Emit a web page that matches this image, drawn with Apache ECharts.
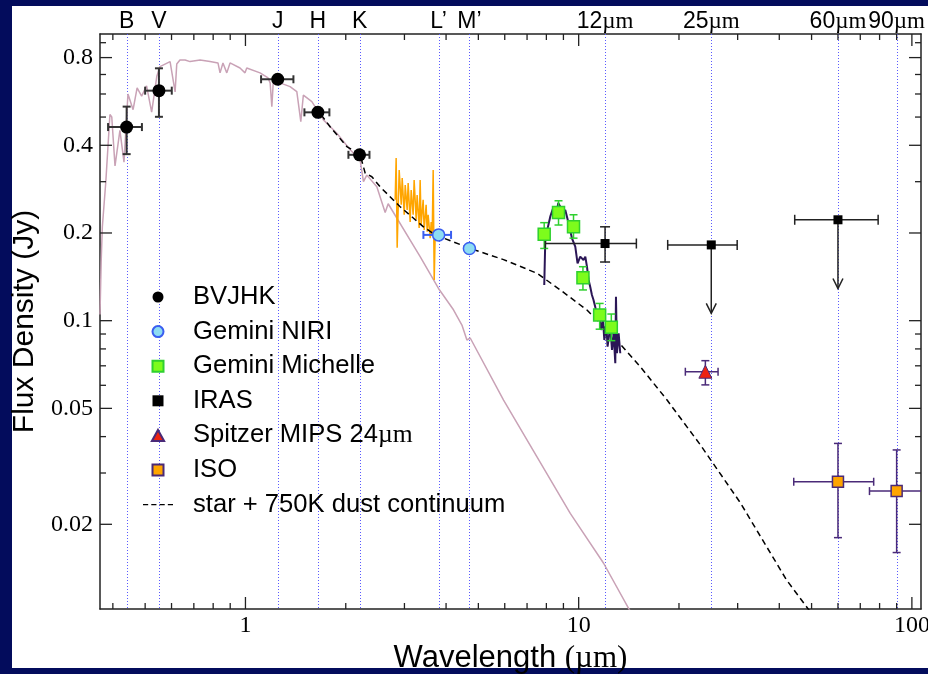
<!DOCTYPE html>
<html><head><meta charset="utf-8">
<script src="https://cdn.jsdelivr.net/npm/echarts@6/dist/echarts.min.js"></script>
<style>
html,body{margin:0;padding:0;background:#030c5c;}
#wrap{position:relative;width:928px;height:674px;background:#030c5c;overflow:hidden;}
#panel{position:absolute;left:12px;top:6px;width:916px;height:662px;background:#fff;}
#chart{position:absolute;left:0;top:0;width:928px;height:674px;}
</style></head><body>
<div id="wrap"><div id="panel"></div><div id="chart"></div></div>
<script>
// ---------- axis ticks / labels ----------
const bandNames = ['B', 'V', 'J', 'H', 'K', 'L\u2019', 'M\u2019', '12µm', '25µm', '60µm', '90µm'];
const bandWaves = [0.44, 0.55, 1.25, 1.65, 2.2, 3.8, 4.7, 12, 25, 60, 90];
const xMajorTicks = [1, 10, 100];
const xMinorTicks = [0.4, 0.5, 0.6, 0.7, 0.8, 0.9, 2, 3, 4, 5, 6, 7, 8, 9, 20, 30, 40, 50, 60, 70, 80, 90];
const yMajorTicks = [0.02, 0.05, 0.1, 0.2, 0.4, 0.8];
const yMinorTicks = [0.03, 0.04, 0.06, 0.07, 0.08, 0.09, 0.3, 0.5, 0.6, 0.7, 0.9];

// ---------- photometry ----------
const bvjhkWave   = [0.44, 0.55, 1.25, 1.65, 2.2];
const bvjhkFlux   = [0.462, 0.616, 0.674, 0.519, 0.371];
const bvjhkWaveLo = [0.387, 0.500, 1.114, 1.503, 2.037];
const bvjhkWaveHi = [0.489, 0.601, 1.393, 1.786, 2.356];
const bvjhkFluxLo = [0.373, 0.501, 0.674, 0.519, 0.371];
const bvjhkFluxHi = [0.543, 0.735, 0.674, 0.519, 0.371];

const niriWave   = [3.8, 4.7];
const niriFlux   = [0.197, 0.177];
const niriWaveLo = [3.42, 4.7];
const niriWaveHi = [4.14, 4.7];

const michWave   = [7.88, 8.70, 9.65, 10.30, 11.56, 12.53];
const michFlux   = [0.198, 0.235, 0.210, 0.1405, 0.1046, 0.0950];
const michFluxLo = [0.177, 0.213, 0.192, 0.1275, 0.0935, 0.0854];
const michFluxHi = [0.217, 0.258, 0.231, 0.1532, 0.1146, 0.1054];

const irasWave   = [12, 25, 60];
const irasFlux   = [0.184, 0.182, 0.222];
const irasWaveLo = [7.94, 18.5, 44.5];
const irasWaveHi = [14.9, 29.9, 79.2];
const irasFluxLo = [0.159, 0.182, 0.222];
const irasFluxHi = [0.210, 0.182, 0.222];
const irasLimitWave = [25, 60];
const irasLimitFrom = [0.182, 0.222];
const irasLimitTo   = [0.106, 0.129];

const mipsWave = [24], mipsFlux = [0.0668];
const mipsWaveLo = [20.9], mipsWaveHi = [26.2];
const mipsFluxLo = [0.0602], mipsFluxHi = [0.0729];

const isoWave   = [60, 90];
const isoFlux   = [0.028, 0.026];
const isoWaveLo = [44.2, 74.6];
const isoWaveHi = [76.8, 110];
const isoFluxLo = [0.018, 0.016];
const isoFluxHi = [0.0379, 0.036];

// ---------- spectra / models ----------
const photoWave = [0.366,0.369,0.372,0.381,0.392,0.397,0.406,0.420,0.432,0.444,0.460,0.473,0.488,0.505,0.523,0.542,0.554,0.594,0.615,0.622,0.636,0.659,0.682,0.731,0.783,0.827,0.839,0.856,0.879,0.899,0.963,0.997,1.009,1.106,1.169,1.186,1.20,1.213,1.270,1.361,1.426,1.466,1.492,1.582,1.714,1.880,2.062,2.209,2.260,2.313,2.479,2.626,2.681,3.344,3.796,4.21,4.463,4.619,4.726,5.951,7.497,9.436,11.88,14.12,14.4];
const photoFlux = [0.105,0.16,0.21,0.30,0.51,0.50,0.34,0.45,0.35,0.60,0.53,0.63,0.59,0.64,0.52,0.69,0.745,0.775,0.61,0.76,0.785,0.785,0.775,0.785,0.775,0.767,0.709,0.767,0.709,0.767,0.737,0.709,0.737,0.709,0.681,0.655,0.543,0.671,0.655,0.636,0.611,0.482,0.595,0.565,0.489,0.44,0.386,0.356,0.300,0.316,0.288,0.235,0.252,0.166,0.129,0.109,0.0966,0.0858,0.0872,0.0534,0.0341,0.0218,0.0147,0.0103,0.0099];

const dustWave = [1.618,1.795,2.015,2.209,2.287,2.395,2.536,2.913,3.422,3.71,4.726,5.951,7.497,8.806,10.59,12.73,15.31,18.42,23.17,30.57,42.02,49.61];
const dustFlux = [0.543,0.463,0.396,0.371,0.321,0.312,0.288,0.246,0.210,0.197,0.177,0.162,0.1455,0.1275,0.1088,0.0881,0.0695,0.0534,0.0375,0.0237,0.0129,0.0100];

const isoSpecWave = [2.814,2.833,2.853,2.893,2.934,2.954,2.995,3.016,3.057,3.078,3.121,3.143,3.186,3.208,3.253,3.275,3.321,3.344,3.367,3.414,3.438,3.485,3.51,3.534,3.584,3.609,3.634,3.659,3.685,3.71];
const isoSpecFlux = [0.260,0.362,0.178,0.329,0.250,0.309,0.231,0.292,0.240,0.297,0.218,0.281,0.231,0.304,0.222,0.270,0.208,0.304,0.213,0.260,0.205,0.250,0.202,0.231,0.192,0.218,0.195,0.329,0.138,0.197];

const michSpecWave = [7.884,7.938,8.05,8.217,8.407,8.566,8.685,8.806,8.929,9.116,9.326,9.548,9.768,9.924,10.11,10.34,10.47,10.59,10.71,10.83,10.96,11.08,11.21,11.40,11.53,11.67,11.83,11.94,12.10,12.21,12.44,12.59,12.73,12.88,12.94,13.03,13.18,13.33];
const michSpecFlux = [0.1326,0.1867,0.205,0.2275,0.2462,0.2307,0.2535,0.2462,0.2362,0.2399,0.216,0.1918,0.1795,0.1574,0.1659,0.1616,0.1659,0.1532,0.138,0.1308,0.1225,0.1178,0.1117,0.1006,0.1074,0.0929,0.1006,0.0858,0.098,0.0814,0.0954,0.0793,0.0905,0.0714,0.1209,0.0773,0.0905,0.0773];

// ---------- layout ----------
const SANS = '"Liberation Sans", Arial, Helvetica, sans-serif';
const SERIF = '"Liberation Serif", "Times New Roman", serif';
const X_MIN = 0.366, X_MAX = 106.5, Y_MIN = 0.01024, Y_MAX = 0.964;
const AX = '#222';

const pairs = (xs, ys) => xs.map((x, i) => [x, ys[i]]);
const errRows = (x, y, xl, xh, yl, yh) => x.map((v, i) => [v, y[i], xl ? xl[i] : v, xh ? xh[i] : v, yl ? yl[i] : y[i], yh ? yh[i] : y[i]]);

function errRender(color, width, cap) {
  return function (params, api) {
    const x = api.value(0), y = api.value(1), xl = api.value(2), xh = api.value(3), yl = api.value(4), yh = api.value(5);
    const st = { stroke: color, lineWidth: width, fill: null };
    const ch = [];
    if (xl !== xh) {
      const a = api.coord([xl, y]), b = api.coord([xh, y]);
      ch.push({ type: 'line', shape: { x1: a[0], y1: a[1], x2: b[0], y2: b[1] }, style: st });
      ch.push({ type: 'line', shape: { x1: a[0], y1: a[1] - cap, x2: a[0], y2: a[1] + cap }, style: st });
      ch.push({ type: 'line', shape: { x1: b[0], y1: b[1] - cap, x2: b[0], y2: b[1] + cap }, style: st });
    }
    if (yl !== yh) {
      const a = api.coord([x, yl]), b = api.coord([x, yh]);
      ch.push({ type: 'line', shape: { x1: a[0], y1: a[1], x2: b[0], y2: b[1] }, style: st });
      ch.push({ type: 'line', shape: { x1: a[0] - cap, y1: a[1], x2: a[0] + cap, y2: a[1] }, style: st });
      ch.push({ type: 'line', shape: { x1: b[0] - cap, y1: b[1], x2: b[0] + cap, y2: b[1] }, style: st });
    }
    return { type: 'group', children: ch };
  };
}
function errSeries(rows, color, width, cap, z) {
  return { type: 'custom', name: '_err', data: rows, clip: true, z: z, silent: true,
    encode: { x: [0, 2, 3], y: [1, 4, 5] }, renderItem: errRender(color, width, cap) };
}

function axisCfg(isX, pos, extra) {
  return Object.assign({
    type: 'log', logBase: 10, min: isX ? X_MIN : Y_MIN, max: isX ? X_MAX : Y_MAX, position: pos, gridIndex: 0,
    axisLine: { show: true, onZero: false, lineStyle: { color: AX, width: 1.5 } },
    axisTick: { show: false },
    axisLabel: { show: false }, splitLine: { show: false }, minorTick: { show: false }, minorSplitLine: { show: false }
  }, extra);
}
const nearestIdx = (arr, v) => { let b = 0; arr.forEach((a, i) => { if (Math.abs(Math.log(a / v)) < Math.abs(Math.log(arr[b] / v))) b = i; }); return b; };

// tick marks drawn through the axes' own scales (inside, mirrored on both sides)
const xTickRows = xMinorTicks.map(v => [v, Y_MIN, Y_MAX, 0]).concat(xMajorTicks.map(v => [v, Y_MIN, Y_MAX, 1]));
const yTickRows = yMinorTicks.map(v => [X_MIN, X_MAX, v, 0]).concat(yMajorTicks.map(v => [X_MIN, X_MAX, v, 1]));
const tickStyle = { stroke: AX, lineWidth: 1.3 };

const richMu = { s: { fontFamily: SANS, fontSize: 23, color: '#000' }, m: { fontFamily: SERIF, fontSize: 23, color: '#000' } };
const dashIcon = 'path://M0,0h5v1.2h-5z M8,0h5v1.2h-5z M16,0h5v1.2h-5z M24,0h5v1.2h-5z';
const squareIcon = 'path://M0,0L10,0L10,10L0,10Z';

const option = {
  animation: false,
  backgroundColor: 'transparent',
  grid: { left: 100, top: 34, width: 821, height: 575, containLabel: false, outerBoundsMode: 'none' },
  xAxis: [
    axisCfg(true, 'bottom', {
      axisLabel: { show: true, customValues: xMajorTicks, margin: 5, fontFamily: SERIF, fontSize: 24, color: '#000', hideOverlap: false,
        formatter: v => String(xMajorTicks[nearestIdx(xMajorTicks, v)]) },
      name: '{a|Wavelength }{b|(µm)}', nameLocation: 'middle', nameGap: 28,
      nameTextStyle: { rich: { a: { fontFamily: SANS, fontSize: 31, color: '#000' }, b: { fontFamily: SERIF, fontSize: 31, color: '#000' } } }
    }),
    axisCfg(true, 'top', {
      axisLabel: { show: true, customValues: bandWaves, margin: 1, fontFamily: SANS, fontSize: 23, color: '#000', rich: richMu, hideOverlap: false,
        formatter: v => { const n = bandNames[nearestIdx(bandWaves, v)]; return n.indexOf('µm') > 0 ? '{s|' + n.replace('µm', '') + '}{m|µm}' : '{s|' + n + '}'; } }
    })
  ],
  yAxis: [
    axisCfg(false, 'left', {
      axisLabel: { show: true, customValues: yMajorTicks, margin: 7, fontFamily: SERIF, fontSize: 24, color: '#000', hideOverlap: false,
        formatter: v => String(yMajorTicks[nearestIdx(yMajorTicks, v)]) },
      name: 'Flux Density (Jy)', nameLocation: 'middle', nameGap: 60,
      nameTextStyle: { fontFamily: SANS, fontSize: 30, color: '#000' }
    }),
    axisCfg(false, 'right')
  ],
  legend: {
    orient: 'vertical', left: 138, top: 279, padding: 5, itemWidth: 30, itemHeight: 11, itemGap: 8.6, selectedMode: false,
    textStyle: { fontFamily: SANS, fontSize: 25.6, color: '#000', lineHeight: 25, padding: [0, 0, 0, 15],
      rich: { m: { fontFamily: SERIF, fontSize: 25.6, color: '#000', lineHeight: 25 } } },
    formatter: n => n.replace('µm', '{m|µm}'),
    data: [
      { name: 'BVJHK', icon: 'circle' },
      { name: 'Gemini NIRI', icon: 'circle' },
      { name: 'Gemini Michelle', icon: squareIcon },
      { name: 'IRAS', icon: squareIcon },
      { name: 'Spitzer MIPS 24µm', icon: 'path://M5,0L10,9L0,9Z' },
      { name: 'ISO', icon: squareIcon },
      { name: 'star + 750K dust continuum', icon: dashIcon, itemStyle: { color: '#000' } }
    ]
  },
  series: [
    { type: 'custom', name: '_bands', silent: true, z: 1, clip: true,
      data: bandWaves.map(w => [w, Y_MIN, Y_MAX]), encode: { x: 0, y: [1, 2] },
      renderItem: (p, api) => { const a = api.coord([api.value(0), api.value(2)]), b = api.coord([api.value(0), api.value(1)]);
        const px = Math.round(a[0]) + 0.5;
        return { type: 'line', shape: { x1: px, y1: Math.round(a[1]), x2: px, y2: Math.round(b[1]) },
          style: { stroke: '#5a5aff', lineWidth: 1, lineDash: [1, 2] } }; } },
    { type: 'custom', name: '_xticks', silent: true, z: 8, clip: false,
      data: xTickRows, encode: { x: 0, y: [1, 2] },
      renderItem: (p, api) => { const len = api.value(3) ? 12 : 6;
        const b = api.coord([api.value(0), api.value(1)]), t = api.coord([api.value(0), api.value(2)]);
        return { type: 'group', children: [
          { type: 'line', shape: { x1: b[0], y1: b[1], x2: b[0], y2: b[1] - len }, style: tickStyle },
          { type: 'line', shape: { x1: t[0], y1: t[1], x2: t[0], y2: t[1] + len }, style: tickStyle } ] }; } },
    { type: 'custom', name: '_yticks', silent: true, z: 8, clip: false,
      data: yTickRows, encode: { x: [0, 1], y: 2 },
      renderItem: (p, api) => { const len = api.value(3) ? 12 : 6;
        const l = api.coord([api.value(0), api.value(2)]), r = api.coord([api.value(1), api.value(2)]);
        return { type: 'group', children: [
          { type: 'line', shape: { x1: l[0], y1: l[1], x2: l[0] + len, y2: l[1] }, style: tickStyle },
          { type: 'line', shape: { x1: r[0], y1: r[1], x2: r[0] - len, y2: r[1] }, style: tickStyle } ] }; } },
    { type: 'line', name: '_photo', data: pairs(photoWave, photoFlux), symbol: 'none', z: 2, silent: true,
      lineStyle: { color: '#c9a2b6', width: 1.5 } },
    { type: 'line', name: '_isospec', data: pairs(isoSpecWave, isoSpecFlux), symbol: 'none', z: 3, silent: true,
      lineStyle: { color: '#ffa500', width: 1.5 } },
    { type: 'line', name: 'star + 750K dust continuum', data: pairs(dustWave, dustFlux), symbol: 'none', z: 4, silent: true,
      itemStyle: { color: '#000' }, lineStyle: { color: '#000', width: 1.5, type: [6, 4] } },
    { type: 'line', name: '_michspec', data: pairs(michSpecWave, michSpecFlux), symbol: 'none', z: 5, silent: true,
      lineStyle: { color: '#2b1656', width: 2 } },

    errSeries(errRows(bvjhkWave, bvjhkFlux, bvjhkWaveLo, bvjhkWaveHi, bvjhkFluxLo, bvjhkFluxHi), '#333', 2, 4, 6),
    errSeries(errRows(niriWave, niriFlux, niriWaveLo, niriWaveHi, null, null), '#3a5ef0', 2, 4, 6),
    errSeries(errRows(michWave, michFlux, null, null, michFluxLo, michFluxHi), '#2fd02f', 1.5, 4, 6),
    errSeries(errRows(irasWave, irasFlux, irasWaveLo, irasWaveHi, irasFluxLo, irasFluxHi), '#222', 1.5, 5, 6),
    errSeries(errRows(mipsWave, mipsFlux, mipsWaveLo, mipsWaveHi, mipsFluxLo, mipsFluxHi), '#4a2a78', 1.5, 4, 6),
    errSeries(errRows(isoWave, isoFlux, isoWaveLo, isoWaveHi, isoFluxLo, isoFluxHi), '#4a2a78', 1.5, 4, 6),
    { type: 'custom', name: '_limits', silent: true, z: 6, clip: true,
      data: irasLimitWave.map((w, i) => [w, irasLimitFrom[i], irasLimitTo[i]]), encode: { x: 0, y: [1, 2] },
      renderItem: (p, api) => { const a = api.coord([api.value(0), api.value(1)]), b = api.coord([api.value(0), api.value(2)]);
        const st = { stroke: '#222', lineWidth: 1.5, fill: null };
        return { type: 'group', children: [
          { type: 'line', shape: { x1: a[0], y1: a[1], x2: b[0], y2: b[1] }, style: st },
          { type: 'polyline', shape: { points: [[b[0] - 5, b[1] - 10], [b[0], b[1]], [b[0] + 5, b[1] - 10]] }, style: st } ] }; } },

    { type: 'scatter', name: 'BVJHK', data: pairs(bvjhkWave, bvjhkFlux), symbol: 'circle', symbolSize: 13, z: 7,
      itemStyle: { color: '#000', opacity: 1 } },
    { type: 'scatter', name: 'Gemini NIRI', data: pairs(niriWave, niriFlux), symbol: 'circle', symbolSize: 12, z: 7,
      itemStyle: { color: '#8ddcf2', borderColor: '#3a5ef0', borderWidth: 1.5, opacity: 1 } },
    { type: 'scatter', name: 'Gemini Michelle', data: pairs(michWave, michFlux), symbol: 'rect', symbolSize: 12, z: 7,
      itemStyle: { color: '#7dfc1c', borderColor: '#2fd02f', borderWidth: 1.5, opacity: 1 } },
    { type: 'scatter', name: 'IRAS', data: pairs(irasWave, irasFlux), symbol: 'rect', symbolSize: 9, z: 7,
      itemStyle: { color: '#000', opacity: 1 } },
    { type: 'scatter', name: 'Spitzer MIPS 24µm', data: pairs(mipsWave, mipsFlux), symbol: 'triangle', symbolSize: 13, z: 7,
      itemStyle: { color: '#ee2211', borderColor: '#4a2a78', borderWidth: 1, opacity: 1 } },
    { type: 'scatter', name: 'ISO', data: pairs(isoWave, isoFlux), symbol: 'rect', symbolSize: 11, z: 7,
      itemStyle: { color: '#ffa500', borderColor: '#4a2a78', borderWidth: 1.5, opacity: 1 } }
  ]
};
const chart = echarts.init(document.getElementById('chart'), null, { renderer: 'canvas' });
chart.setOption(option);
</script></body></html>
